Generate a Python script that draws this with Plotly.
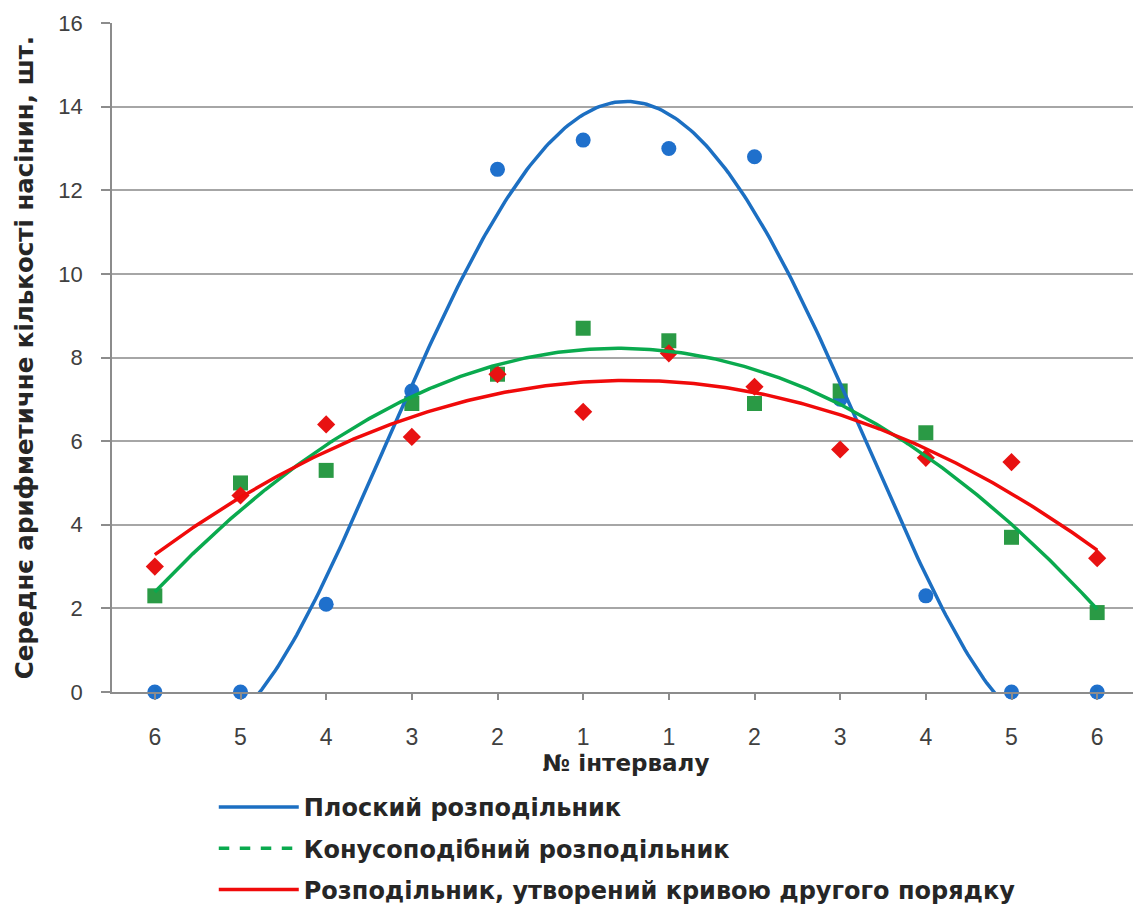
import numpy as np
import plotly.graph_objects as go

# ---- data ----
tick_labels = ["6", "5", "4", "3", "2", "1", "1", "2", "3", "4", "5", "6"]
positions = list(range(1, 13))

flat = [0.0, 0.0, 2.1, 7.2, 12.5, 13.2, 13.0, 12.8, 7.0, 2.3, 0.0, 0.0]
cone = [2.3, 5.0, 5.3, 6.9, 7.6, 8.7, 8.4, 6.9, 7.2, 6.2, 3.7, 1.9]
curve2 = [3.0, 4.7, 6.4, 6.1, 7.6, 6.7, 8.1, 7.3, 5.8, 5.6, 5.5, 3.2]

names = ["Плоский розподільник",
         "Конусоподібний розподільник",
         "Розподільник, утворений кривою другого порядку"]

# polynomial trendlines (as in the spreadsheet chart)
xs = np.linspace(1, 12, 300)
fit_flat = np.polyval(np.polyfit(positions, flat, 4), xs)
fit_cone = np.polyval(np.polyfit(positions, cone, 2), xs)
fit_c2 = np.polyval(np.polyfit(positions, curve2, 2), xs)

BLUE_L, BLUE_M = "#1c6fc2", "#1f70cc"
GREEN_L, GREEN_M = "#0aaa4e", "#2a9a45"
RED_L, RED_M = "#f00a0a", "#e81212"

BOLD_FONT = "DejaVu Sans, Liberation Sans, Arial"

fig = go.Figure()

# data markers
fig.add_trace(go.Scatter(x=positions, y=flat, mode="markers", showlegend=False,
                         marker=dict(symbol="circle", size=15, color=BLUE_M),
                         cliponaxis=False))
fig.add_trace(go.Scatter(x=positions, y=cone, mode="markers", showlegend=False,
                         marker=dict(symbol="square", size=15, color=GREEN_M),
                         cliponaxis=False))
fig.add_trace(go.Scatter(x=positions, y=curve2, mode="markers", showlegend=False,
                         marker=dict(symbol="diamond", size=14, color=RED_M),
                         cliponaxis=False))

# trendlines
fig.add_trace(go.Scatter(x=xs, y=fit_flat, mode="lines", name=names[0],
                         legendgroup="a", line=dict(color=BLUE_L, width=3.5)))
fig.add_trace(go.Scatter(x=xs, y=fit_cone, mode="lines", name=names[1],
                         legendgroup="b", showlegend=False,
                         line=dict(color=GREEN_L, width=3.5)))
fig.add_trace(go.Scatter(x=[None], y=[None], mode="lines", name=names[1],
                         legendgroup="b", line=dict(color=GREEN_L, width=3.5, dash="dash")))
fig.add_trace(go.Scatter(x=xs, y=fit_c2, mode="lines", name=names[2],
                         legendgroup="c", line=dict(color=RED_L, width=3.5)))

fig.update_layout(
    width=1141, height=909,
    margin=dict(l=104, r=9, t=15, b=225, autoexpand=False),
    paper_bgcolor="white", plot_bgcolor="white",
    font=dict(family="Liberation Sans, Arial", color="#262626"),
    showlegend=True,
    legend=dict(
        x=0.099, y=-0.139, xanchor="left", yanchor="top",
        orientation="v", tracegroupgap=7, itemwidth=80,
        font=dict(size=24, family=BOLD_FONT, color="#262626", weight="bold"),
        bgcolor="rgba(0,0,0,0)",
    ),
    xaxis=dict(
        range=[0.5, 12.5], tickmode="array", tickvals=positions, ticktext=tick_labels,
        showgrid=False, zeroline=False, showline=True, linecolor="#8c8c8c", linewidth=1.5,
        ticks="outside", ticklen=6, tickcolor="#8c8c8c", tickwidth=1.5,
        ticklabelstandoff=18,
        tickfont=dict(size=23, color="#404040", family="Liberation Sans, Arial"),
        title=dict(text="№ інтервалу", standoff=2,
                   font=dict(size=23, color="#262626", weight="bold", family=BOLD_FONT)),
    ),
    yaxis=dict(
        range=[0, 16], tickmode="array", tickvals=list(range(0, 17, 2)),
        showgrid=True, gridcolor="#a6a6a6", gridwidth=1.5,
        zeroline=False, showline=True, linecolor="#8c8c8c", linewidth=1.5,
        ticks="outside", ticklen=9, tickcolor="#8c8c8c", tickwidth=1.5,
        ticklabelstandoff=14,
        tickfont=dict(size=22, color="#404040", family="Liberation Sans, Arial"),
        title=dict(text="Середнє арифметичне кількості насінин, шт.", standoff=18,
                   font=dict(size=24.5, color="#262626", weight="bold", family=BOLD_FONT)),
    ),
)

fig.write_html("out.html")
